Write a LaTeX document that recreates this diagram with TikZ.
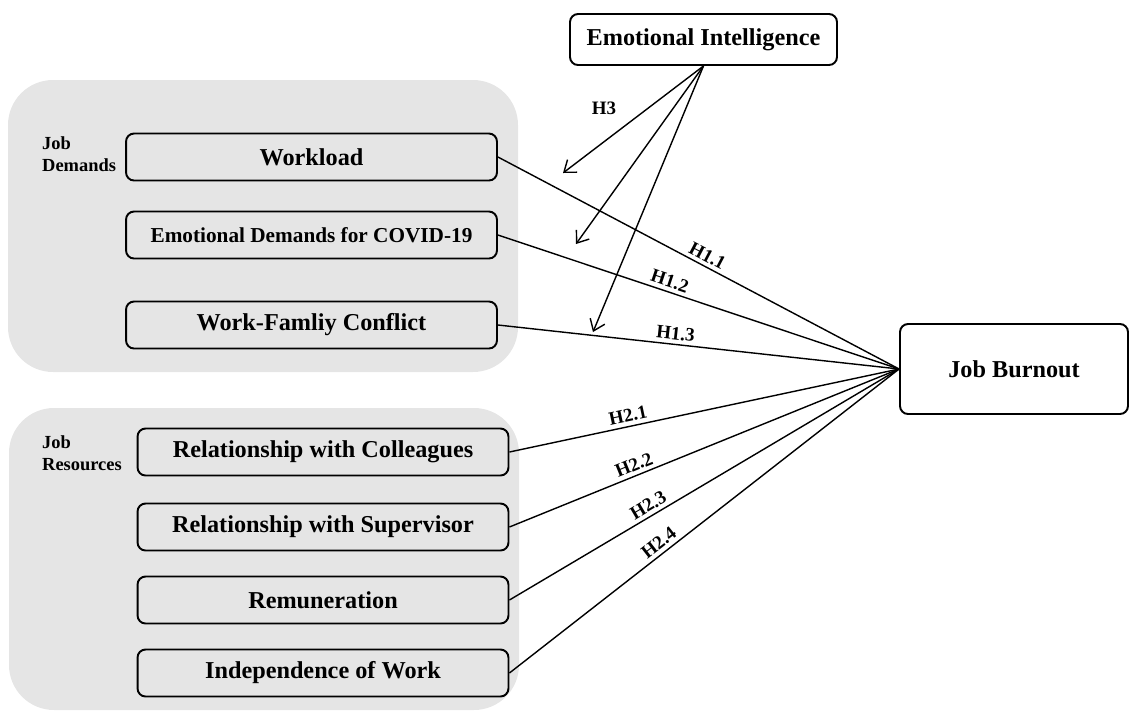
\documentclass[tikz,border=0pt]{standalone}
\usepackage{fontspec}
\setmainfont{Liberation Serif}
\usetikzlibrary{arrows.meta}

\begin{document}
\begin{tikzpicture}[x=0.02cm,y=-0.02cm,
  box/.style={draw,line width=1.1pt,rounded corners=0.16cm,inner sep=0pt,
    font=\bfseries\fontsize{13.8}{16}\selectfont,minimum height=0.94cm},
  factor/.style={box,minimum width=7.42cm},
  hyp/.style={font=\bfseries\fontsize{10.8}{12}\selectfont,inner sep=2pt},
  group/.style={fill=black!10,rounded corners=0.9cm},
  grouplabel/.style={anchor=west,align=left,font=\bfseries\fontsize{10.5}{12.5}\selectfont},
  link/.style={line width=0.8pt},
  mod/.style={line width=0.8pt,-{Straight Barb[length=6pt,width=9pt]}}]
  \useasboundingbox (0,0) rectangle (1130,711);

  % Grey groups on the left
  \fill[group] (8,80) rectangle (518,372);
  \fill[group] (9,408) rectangle (519,710);
  \node[grouplabel]  (JD)  at (36,154)   {Job\\Demands};
  \node[grouplabel]  (JR)  at (36,453.5) {Job\\Resources};

  % Boxes
  \node[box,fill=white,minimum width=5.34cm,minimum height=1.02cm] (EI) at (703.5,39.5) {Emotional Intelligence};
  \node[factor] (WL) at (311.5,157) {Workload};
  \node[factor,font=\bfseries\fontsize{12.1}{14}\selectfont] (ED) at (311.5,235) {Emotional Demands for COVID-19};
  \node[factor] (WF) at (311.5,325) {Work-Famliy Conflict};
  \node[factor] (RC) at (323,452) {Relationship with Colleagues};
  \node[factor] (RS) at (323,527) {Relationship with Supervisor};
  \node[factor] (RM) at (323,600) {Remuneration};
  \node[factor] (IW) at (323,673) {Independence of Work};
  \node[box,fill=white,minimum width=4.56cm,minimum height=1.8cm] (JB) at (1014,369) {Job Burnout};

  % Moderation arrows
  \coordinate (M1) at (563,173);
  \coordinate (M2) at (576,244);
  \coordinate (M3) at (593,332);
  \draw[mod] (EI.south) -- (M1);
  \draw[mod] (EI.south) -- (M2);
  \draw[mod] (EI.south) -- (M3);
  \node[hyp] (H3) at (604,108) {H3};

  % Links to burnout
  \draw[link] (WL.east) -- (JB.west) node[hyp,pos=0.51,sloped,above] {H1.1};
  \draw[link] (ED.east) -- (JB.west) node[hyp,pos=0.42,sloped,above] {H1.2};
  \draw[link] (WF.east) -- (JB.west) node[hyp,pos=0.44,sloped,above] {H1.3};
  \draw[link] (RC.east) -- (JB.west) node[hyp,pos=0.31,sloped,above] {H2.1};
  \draw[link] (RS.east) -- (JB.west) node[hyp,pos=0.33,sloped,above] {H2.2};
  \draw[link] (RM.east) -- (JB.west) node[hyp,pos=0.37,sloped,above] {H2.3};
  \draw[link] (IW.east) -- (JB.west) node[hyp,pos=0.40,sloped,above] {H2.4};
\end{tikzpicture}
\end{document}
